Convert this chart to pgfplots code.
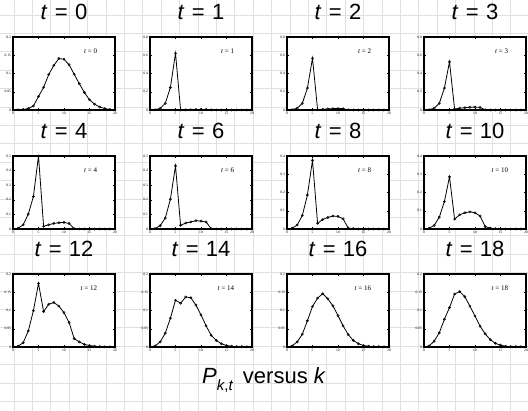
\documentclass[border=0pt]{standalone}
\usepackage{fontspec}
\setmainfont{Liberation Sans}
\newfontfamily\serifface{Liberation Serif}
\usepackage{pgfplots}
\usepackage{pgfplotstable}
\pgfplotsset{compat=1.18}

% P_{k,t} for each time step t (columns) and site k (rows)
\pgfplotstableread{
k  t0     t1    t2    t3    t4    t6    t8    t10   t12    t14    t16    t18
0  0.0001 0     0     0     0     0     0     0     0      0      0      0
1  0.0005 0.003 0.003 0.003 0.005 0.003 0.004 0.004 0.002  0.003  0.003  0.003
2  0.0015 0.018 0.020 0.020 0.029 0.023 0.022 0.020 0.012  0.014  0.014  0.016
3  0.004  0.073 0.073 0.073 0.102 0.075 0.074 0.065 0.044  0.038  0.035  0.039
4  0.011  0.247 0.240 0.240 0.222 0.204 0.186 0.150 0.0995 0.079  0.072  0.076
5  0.037  0.622 0.567 0.528 0.500 0.432 0.376 0.286 0.174  0.128  0.111  0.108
6  0.062  0.000 0.003 0.010 0.018 0.025 0.031 0.054 0.097  0.120  0.134  0.145
7  0.097  0.001 0.007 0.020 0.029 0.041 0.052 0.078 0.117  0.137  0.146  0.152
8  0.122  0.003 0.012 0.025 0.038 0.048 0.063 0.089 0.122  0.135  0.132  0.138
9  0.141  0.005 0.015 0.030 0.043 0.057 0.071 0.094 0.112  0.115  0.113  0.112
10 0.139  0.006 0.016 0.032 0.045 0.054 0.069 0.089 0.094  0.088  0.086  0.085
11 0.124  0.005 0.015 0.028 0.038 0.048 0.056 0.071 0.067  0.058  0.058  0.057
12 0.098  0.001 0.002 0.002 0.002 0.002 0.005 0.013 0.023  0.032  0.034  0.036
13 0.072  0     0     0     0     0     0.002 0.005 0.014  0.018  0.018  0.020
14 0.048  0     0     0     0     0     0     0.002 0.007  0.009  0.009  0.010
15 0.028  0     0     0     0     0     0     0     0.004  0.004  0.004  0.005
16 0.016  0     0     0     0     0     0     0     0.002  0.002  0.002  0.002
17 0.008  0     0     0     0     0     0     0     0.001  0.001  0.001  0.001
18 0.004  0     0     0     0     0     0     0     0.0005 0.001  0.001  0.001
19 0.0015 0     0     0     0     0     0     0     0.0005 0.0005 0.0005 0.001
20 0.0005 0     0     0     0     0     0     0     0.0005 0.0005 0.0005 0.0005
}\probtable

\pgfplotsset{
  panel/.style={
    scale only axis, width=102pt, height=73pt,
    anchor=north west,
    xmin=0, xmax=20, ymin=0,
    xtick={0,5,10,15,20},
    tick align=inside, major tick length=2pt,
    tick style={line width=0.4pt, black},
    axis line style={line width=1.3pt},
    axis background/.style={fill=white},
    clip=false,
    /pgf/number format/assume math mode=true,
    /pgf/number format/fixed,
    /pgf/number format/precision=2,
    tick label style={font=\serifface\fontsize{3.6}{4}\selectfont},
    xticklabel style={yshift=1.5pt},
    yticklabel style={xshift=1.5pt},
    title style={font=\fontsize{22}{22}\selectfont, at={(0.5,1)}, anchor=base, yshift=11pt},
  },
  curve/.style={black, line width=0.8pt, mark=o, mark size=1.1pt,
    mark options={line width=0.5pt, fill=white, solid}},
}

% one panel: #1 x, #2 y (top-left, pt), #3 column, #4 time, #5 ymax, #6 tick step
\newcommand{\panel}[6]{%
  \begin{axis}[panel, at={(#1pt,-#2pt)}, ymax=#5, ytick distance=#6,
      title={\textit{t}\,\,=\,\,#4}]
    \addplot[curve] table[x=k, y=#3] {\probtable};
    \node[anchor=base east, font=\serifface\fontsize{7}{8}\selectfont]
      at (rel axis cs:0.86,0.78) {\textit{t} = #4};
  \end{axis}}

\begin{document}
\begin{tikzpicture}
  \useasboundingbox (0,0) rectangle (528pt,-411pt);
  \fill[white] (0,0) rectangle (528pt,-411pt);
  % background grid paper
  \foreach \i in {0,...,28} {
    \draw[black!12, line width=0.8pt] ({14+18.4*\i pt},0) -- ({14+18.4*\i pt},-411pt);
  }
  \foreach \j in {0,...,22} {
    \draw[black!12, line width=0.8pt] (0,{-15-18.4*\j pt}) -- (528pt,{-15-18.4*\j pt});
  }

  \panel{13}{37}{t0}{0}{0.2}{0.05}
  \panel{150}{37}{t1}{1}{0.8}{0.2}
  \panel{287}{37}{t2}{2}{0.8}{0.2}
  \panel{424}{37}{t3}{3}{0.8}{0.2}

  \panel{13}{156}{t4}{4}{0.5}{0.1}
  \panel{150}{156}{t6}{6}{0.5}{0.1}
  \panel{287}{156}{t8}{8}{0.4}{0.1}
  \panel{424}{156}{t10}{10}{0.4}{0.1}

  \panel{13}{274}{t12}{12}{0.2}{0.05}
  \panel{150}{274}{t14}{14}{0.2}{0.05}
  \panel{287}{274}{t16}{16}{0.2}{0.05}
  \panel{424}{274}{t18}{18}{0.2}{0.05}

  \node[font=\fontsize{22}{26}\selectfont] at (264pt,-380pt)
    {\textit{P}\raisebox{-0.3em}{\fontsize{15}{15}\selectfont\textit{k},\textit{t}}\, versus \textit{k}};
\end{tikzpicture}
\end{document}
